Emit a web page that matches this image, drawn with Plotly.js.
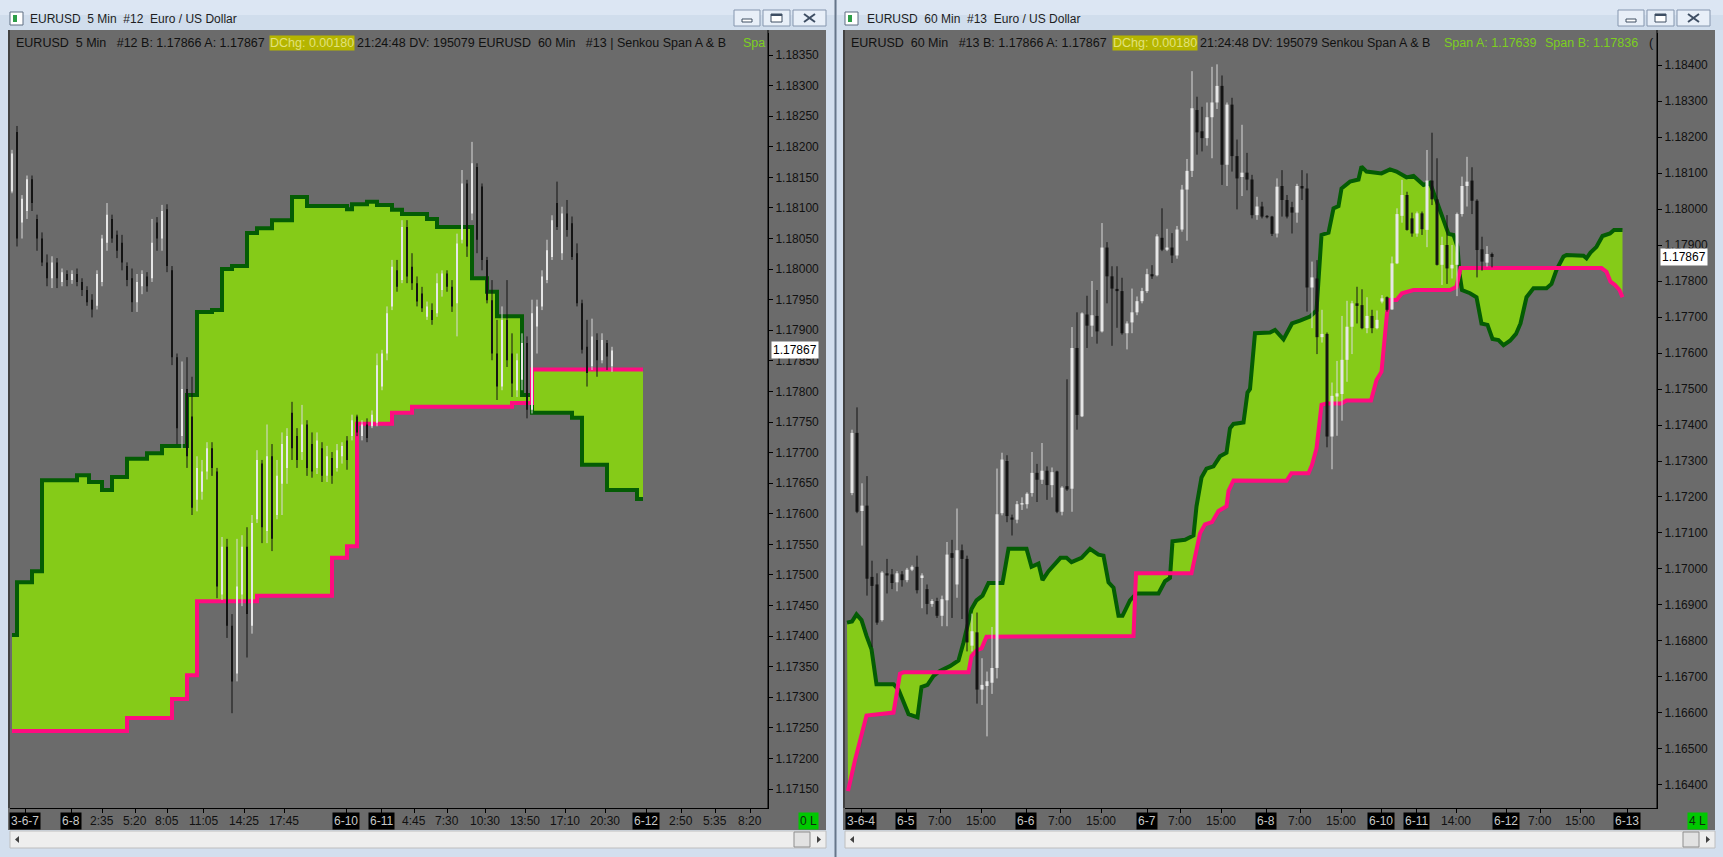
<!DOCTYPE html>
<html>
<head>
<meta charset="utf-8">
<script src="https://cdn.plot.ly/plotly-3.0.1.min.js"></script>
<style>
  html, body { margin: 0; padding: 0; background: #D3DFEE; }
  #chart { width: 1723px; height: 857px; }
</style>
</head>
<body>
<div id="chart"></div>
<script>
const FONT = "'Liberation Sans', Arial, sans-serif";
const W = 1723, H = 857;
const px = v => v / W;       // pixel -> paper x
const py = v => 1 - v / H;   // pixel -> paper y

// ---------- EURUSD 5 Min (#12) ----------
const leftOpen = [
  1.18127, 1.18224, 1.18076, 1.18095, 1.18147, 1.18082, 1.18050, 1.18011, 1.17985, 1.18011,
  1.17979, 1.17992, 1.17982, 1.17992, 1.17979, 1.17966, 1.17950, 1.17940, 1.17979, 1.18043,
  1.18082, 1.18056, 1.18043, 1.18005, 1.17985, 1.17946, 1.17972, 1.17988, 1.17985, 1.18076,
  1.18050, 1.18098, 1.17998, 1.17856, 1.17727, 1.17804, 1.17759, 1.17623, 1.17636, 1.17669,
  1.17707, 1.17669, 1.17468, 1.17546, 1.17417, 1.17339, 1.17468, 1.17546, 1.17417, 1.17591,
  1.17682, 1.17572, 1.17694, 1.17598, 1.17649, 1.17675, 1.17765, 1.17727, 1.17701, 1.17746,
  1.17714, 1.17675, 1.17707, 1.17662, 1.17691, 1.17675, 1.17694, 1.17720, 1.17727, 1.17759,
  1.17727, 1.17746, 1.17743, 1.17749, 1.17808, 1.17862, 1.17939, 1.17998, 1.17982, 1.18069,
  1.18004, 1.17977, 1.17960, 1.17922, 1.17933, 1.17928, 1.17966, 1.17993, 1.17971, 1.17944,
  1.18048, 1.18140, 1.18091, 1.18167, 1.18135, 1.18015, 1.17949, 1.17862, 1.17808, 1.17917,
  1.17862, 1.17802, 1.17819, 1.17879, 1.17770, 1.17906, 1.17939, 1.17982, 1.18020, 1.18108,
  1.18026, 1.18091, 1.18075, 1.18026, 1.17944, 1.17873, 1.17841, 1.17884, 1.17851, 1.17879,
  1.17841
];
const leftHigh = [
  1.18195, 1.18234, 1.18121, 1.18153, 1.18153, 1.18089, 1.18060, 1.18024, 1.18021, 1.18018,
  1.18001, 1.17998, 1.17998, 1.18001, 1.17985, 1.17972, 1.17959, 1.17998, 1.18056, 1.18108,
  1.18089, 1.18063, 1.18056, 1.18011, 1.18001, 1.17992, 1.17998, 1.17995, 1.18082, 1.18085,
  1.18105, 1.18106, 1.18005, 1.17862, 1.17849, 1.17856, 1.17824, 1.17694, 1.17688, 1.17717,
  1.17717, 1.17675, 1.17562, 1.17559, 1.17436, 1.17559, 1.17565, 1.17578, 1.17598, 1.17704,
  1.17688, 1.17746, 1.17714, 1.17688, 1.17733, 1.17740, 1.17783, 1.17740, 1.17778, 1.17753,
  1.17733, 1.17733, 1.17717, 1.17711, 1.17701, 1.17714, 1.17717, 1.17727, 1.17762, 1.17762,
  1.17753, 1.17756, 1.17769, 1.17862, 1.17868, 1.17939, 1.18015, 1.18015, 1.18080, 1.18080,
  1.18026, 1.17988, 1.17971, 1.17947, 1.17944, 1.17993, 1.17998, 1.17998, 1.17982, 1.18058,
  1.18162, 1.18146, 1.18208, 1.18173, 1.18140, 1.18020, 1.17982, 1.17917, 1.17939, 1.17982,
  1.17895, 1.17862, 1.17895, 1.17890, 1.17950, 1.17950, 1.17998, 1.18048, 1.18088, 1.18143,
  1.18102, 1.18113, 1.18086, 1.18042, 1.17950, 1.17917, 1.17919, 1.17895, 1.17895, 1.17884,
  1.17873
];
const leftLow = [
  1.18124, 1.18037, 1.18050, 1.18082, 1.18095, 1.18030, 1.18005, 1.17972, 1.17969, 1.17969,
  1.17972, 1.17972, 1.17976, 1.17972, 1.17956, 1.17940, 1.17921, 1.17934, 1.17972, 1.18030,
  1.18043, 1.18018, 1.17998, 1.17972, 1.17930, 1.17930, 1.17959, 1.17963, 1.17979, 1.18030,
  1.18030, 1.17995, 1.17843, 1.17714, 1.17707, 1.17675, 1.17598, 1.17604, 1.17623, 1.17656,
  1.17662, 1.17462, 1.17459, 1.17397, 1.17274, 1.17326, 1.17449, 1.17365, 1.17404, 1.17585,
  1.17552, 1.17552, 1.17539, 1.17591, 1.17598, 1.17649, 1.17688, 1.17675, 1.17688, 1.17662,
  1.17659, 1.17665, 1.17652, 1.17652, 1.17649, 1.17669, 1.17682, 1.17672, 1.17720, 1.17727,
  1.17720, 1.17717, 1.17740, 1.17743, 1.17802, 1.17851, 1.17933, 1.17963, 1.17977, 1.17977,
  1.17966, 1.17939, 1.17930, 1.17917, 1.17909, 1.17922, 1.17955, 1.17963, 1.17930, 1.17890,
  1.18042, 1.18020, 1.18080, 1.18026, 1.17998, 1.17944, 1.17851, 1.17786, 1.17802, 1.17840,
  1.17791, 1.17791, 1.17802, 1.17756, 1.17764, 1.17862, 1.17933, 1.17977, 1.18015, 1.18064,
  1.18015, 1.18053, 1.18015, 1.17939, 1.17862, 1.17808, 1.17835, 1.17824, 1.17846, 1.17835,
  1.17832
];
const leftClose = [
  1.18189, 1.18050, 1.18115, 1.18147, 1.18108, 1.18050, 1.18011, 1.17985, 1.18011, 1.17985,
  1.17995, 1.17982, 1.17992, 1.17979, 1.17966, 1.17946, 1.17934, 1.17992, 1.18050, 1.18089,
  1.18050, 1.18030, 1.18011, 1.17982, 1.17946, 1.17979, 1.17992, 1.17972, 1.18043, 1.18050,
  1.18095, 1.18005, 1.17856, 1.17740, 1.17804, 1.17694, 1.17610, 1.17675, 1.17669, 1.17707,
  1.17675, 1.17481, 1.17546, 1.17417, 1.17326, 1.17481, 1.17546, 1.17436, 1.17585, 1.17688,
  1.17578, 1.17694, 1.17559, 1.17662, 1.17714, 1.17727, 1.17707, 1.17688, 1.17746, 1.17675,
  1.17669, 1.17720, 1.17662, 1.17694, 1.17662, 1.17704, 1.17711, 1.17688, 1.17753, 1.17733,
  1.17746, 1.17724, 1.17762, 1.17843, 1.17862, 1.17928, 1.18004, 1.17971, 1.18069, 1.17988,
  1.17977, 1.17947, 1.17936, 1.17939, 1.17917, 1.17977, 1.17993, 1.17971, 1.17939, 1.18042,
  1.18140, 1.18037, 1.18173, 1.18048, 1.18015, 1.17949, 1.17862, 1.17808, 1.17917, 1.17851,
  1.17813, 1.17851, 1.17879, 1.17770, 1.17928, 1.17939, 1.17988, 1.18031, 1.18080, 1.18069,
  1.18091, 1.18064, 1.18020, 1.17944, 1.17868, 1.17830, 1.17890, 1.17851, 1.17884, 1.17857,
  1.17867
];
// Senkou spans of the 60 min chart, drawn as steps on the 5 min bars
const leftSpanAX = [0, 1, 4, 6, 13, 15.4, 18, 20, 23, 27, 30, 35, 37, 40, 42, 44, 47, 49, 52, 56,
  59, 67, 68, 71, 73, 76, 78, 83, 85, 92, 95, 97, 102, 104, 112, 114, 119, 125, 126.2];
const leftSpanA = [1.17402, 1.17488, 1.17506, 1.17655, 1.17663, 1.17652, 1.17639, 1.17660, 1.17690, 1.17699,
  1.17711, 1.17794, 1.17930, 1.17933, 1.18000, 1.18005, 1.18059, 1.18067, 1.18080, 1.18118,
  1.18103, 1.18098, 1.18106, 1.18110, 1.18105, 1.18097, 1.18090, 1.18082, 1.18069, 1.17985,
  1.17963, 1.17923, 1.17794, 1.17765, 1.17757, 1.17680, 1.17639, 1.17624, 1.17624];
const leftSpanBX = [0, 23, 32, 35, 37, 49, 64, 67, 69, 76, 80, 100, 104, 126.2];
const leftSpanB = [1.17245, 1.17266, 1.17297, 1.17336, 1.17457, 1.17466, 1.17528, 1.17547, 1.17747,
  1.17765, 1.17775, 1.17781, 1.17836, 1.17836];
const leftTickPos = [2.6, 11.8, 18, 24.6, 31, 38.2, 46.4, 54.4, 66.8, 73.8, 80.4, 87, 94.6, 102.6,
  110.6, 118.6, 126.8, 133.8, 140.6, 147.6];
const leftTickText = ['3-6-7', '6-8', '2:35', '5:20', '8:05', '11:05', '14:25', '17:45', '6-10', '6-11',
  '4:45', '7:30', '10:30', '13:50', '17:10', '20:30', '6-12', '2:50', '5:35', '8:20'];

// ---------- EURUSD 60 Min (#13) ----------
const rightOpen = [
  1.17211, 1.17378, 1.17161, 1.17176, 1.16978, 1.16957, 1.16858, 1.16988, 1.16985, 1.16963,
  1.16985, 1.16969, 1.16998, 1.17006, 1.16975, 1.16944, 1.16903, 1.16911, 1.16870, 1.16913,
  1.17044, 1.16957, 1.17052, 1.17028, 1.16787, 1.16824, 1.16665, 1.16675, 1.16684, 1.16725,
  1.17155, 1.17300, 1.17143, 1.17137, 1.17179, 1.17180, 1.17211, 1.17267, 1.17248, 1.17273,
  1.17233, 1.17271, 1.17159, 1.17230, 1.17223, 1.17614, 1.17424, 1.17707, 1.17676, 1.17703,
  1.17660, 1.17893, 1.17813, 1.17778, 1.17772, 1.17655, 1.17685, 1.17713, 1.17744, 1.17772,
  1.17819, 1.17816, 1.17920, 1.17887, 1.17893, 1.17871, 1.17943, 1.18054, 1.18106, 1.18275,
  1.18216, 1.18197, 1.18255, 1.18296, 1.18342, 1.18123, 1.18290, 1.18147, 1.18089, 1.18101,
  1.18082, 1.17983, 1.18007, 1.17981, 1.17979, 1.17932, 1.18064, 1.18025, 1.18005, 1.17990,
  1.18064, 1.18057, 1.17782, 1.17807, 1.17644, 1.17653, 1.17368, 1.17479, 1.17486, 1.17581,
  1.17673, 1.17738, 1.17733, 1.17669, 1.17703, 1.17669, 1.17743, 1.17755, 1.17721, 1.17849,
  1.17981, 1.18039, 1.17974, 1.17932, 1.17988, 1.17942, 1.18079, 1.18027, 1.17845, 1.17900,
  1.17835, 1.17845, 1.17986, 1.18064, 1.18079, 1.18023, 1.17888, 1.17851, 1.17875
];
const rightHigh = [
  1.17387, 1.17449, 1.17238, 1.17258, 1.17023, 1.16988, 1.16994, 1.17028, 1.17000, 1.16994,
  1.16994, 1.17003, 1.17010, 1.17037, 1.16988, 1.16957, 1.16916, 1.16920, 1.16926, 1.17075,
  1.17081, 1.17168, 1.17068, 1.17037, 1.16876, 1.16879, 1.16752, 1.16715, 1.16839, 1.17279,
  1.17323, 1.17316, 1.17151, 1.17189, 1.17199, 1.17213, 1.17325, 1.17292, 1.17350, 1.17285,
  1.17282, 1.17273, 1.17230, 1.17527, 1.17672, 1.17713, 1.17713, 1.17759, 1.17800, 1.17775,
  1.17961, 1.17908, 1.17841, 1.17841, 1.17809, 1.17688, 1.17779, 1.17757, 1.17781, 1.17834,
  1.17844, 1.17930, 1.18002, 1.17945, 1.17933, 1.17953, 1.18067, 1.18139, 1.18383, 1.18312,
  1.18284, 1.18296, 1.18395, 1.18402, 1.18371, 1.18296, 1.18309, 1.18193, 1.18234, 1.18156,
  1.18095, 1.18034, 1.18020, 1.17983, 1.17981, 1.18085, 1.18108, 1.18039, 1.18020, 1.18070,
  1.18108, 1.18099, 1.17854, 1.17858, 1.17720, 1.17657, 1.17518, 1.17578, 1.17703, 1.17745,
  1.17745, 1.17784, 1.17777, 1.17755, 1.17720, 1.17718, 1.17761, 1.17757, 1.17868, 1.18002,
  1.18081, 1.18048, 1.17990, 1.17993, 1.17993, 1.18164, 1.18212, 1.18141, 1.17923, 1.17983,
  1.17900, 1.17990, 1.18090, 1.18145, 1.18116, 1.18027, 1.17923, 1.17897, 1.17879
];
const rightLow = [
  1.17205, 1.17155, 1.17065, 1.16926, 1.16783, 1.16845, 1.16854, 1.16932, 1.16944, 1.16938,
  1.16951, 1.16963, 1.16994, 1.16932, 1.16891, 1.16874, 1.16895, 1.16864, 1.16841, 1.16841,
  1.16864, 1.16920, 1.16861, 1.16771, 1.16771, 1.16626, 1.16622, 1.16535, 1.16653, 1.16696,
  1.17149, 1.17130, 1.17093, 1.17127, 1.17164, 1.17168, 1.17201, 1.17186, 1.17236, 1.17192,
  1.17199, 1.17155, 1.17149, 1.17217, 1.17159, 1.17387, 1.17422, 1.17614, 1.17645, 1.17626,
  1.17657, 1.17738, 1.17620, 1.17670, 1.17651, 1.17610, 1.17655, 1.17705, 1.17738, 1.17767,
  1.17806, 1.17813, 1.17883, 1.17883, 1.17850, 1.17862, 1.17937, 1.17912, 1.18089, 1.18151,
  1.18160, 1.18176, 1.18141, 1.18278, 1.18067, 1.18064, 1.18104, 1.17999, 1.18036, 1.18052,
  1.17974, 1.17970, 1.17974, 1.17974, 1.17925, 1.17921, 1.17979, 1.17974, 1.17932, 1.17962,
  1.18025, 1.17715, 1.17669, 1.17597, 1.17629, 1.17338, 1.17277, 1.17370, 1.17412, 1.17520,
  1.17597, 1.17682, 1.17666, 1.17655, 1.17655, 1.17666, 1.17738, 1.17715, 1.17720, 1.17847,
  1.17962, 1.17940, 1.17923, 1.17923, 1.17928, 1.17894, 1.18011, 1.17843, 1.17789, 1.17792,
  1.17807, 1.17758, 1.17979, 1.18007, 1.17986, 1.17810, 1.17829, 1.17840, 1.17838
];
const rightClose = [
  1.17378, 1.17159, 1.17176, 1.16973, 1.16953, 1.16851, 1.16990, 1.16982, 1.16961, 1.16988,
  1.16969, 1.16998, 1.17006, 1.16941, 1.16982, 1.16903, 1.16911, 1.16870, 1.16916, 1.17040,
  1.17031, 1.17052, 1.17028, 1.16796, 1.16827, 1.16665, 1.16678, 1.16688, 1.16725, 1.17152,
  1.17304, 1.17147, 1.17137, 1.17180, 1.17183, 1.17209, 1.17267, 1.17248, 1.17273, 1.17233,
  1.17269, 1.17159, 1.17226, 1.17221, 1.17614, 1.17428, 1.17710, 1.17676, 1.17705, 1.17660,
  1.17893, 1.17813, 1.17779, 1.17772, 1.17655, 1.17682, 1.17713, 1.17744, 1.17772, 1.17819,
  1.17813, 1.17924, 1.17887, 1.17893, 1.17871, 1.17943, 1.18054, 1.18106, 1.18280, 1.18213,
  1.18197, 1.18255, 1.18296, 1.18342, 1.18123, 1.18290, 1.18147, 1.18085, 1.18101, 1.18082,
  1.17983, 1.18007, 1.17979, 1.17977, 1.17931, 1.18062, 1.18025, 1.17979, 1.17990, 1.18064,
  1.18057, 1.17782, 1.17810, 1.17644, 1.17653, 1.17368, 1.17481, 1.17488, 1.17581, 1.17673,
  1.17738, 1.17731, 1.17669, 1.17703, 1.17669, 1.17692, 1.17752, 1.17720, 1.17849, 1.17986,
  1.18039, 1.17942, 1.17932, 1.17988, 1.17944, 1.18079, 1.18027, 1.17845, 1.17900, 1.17835,
  1.17845, 1.17986, 1.18064, 1.18076, 1.18023, 1.17886, 1.17854, 1.17875, 1.17867
];
const rightSpanAX = [-1, 0, 0.9, 1.9, 2.9, 3.9, 4.9, 8.3, 9.3, 10.3, 11.3, 13.1, 13.9, 15.1, 16.3, 17.6,
  19.6, 21.3, 22.3, 23.9, 24.9, 26.1, 27.3, 30.1, 31.3, 34.9, 35.9, 37.3, 38.1, 39.3, 41.7, 42.9,
  43.9, 45.9, 47.6, 49.3, 50.3, 51.3, 52.3, 53.3, 54.1, 55.6, 56.9, 61.3, 62.6, 63.6, 64.1, 66.6,
  68.3, 68.9, 69.9, 70.9, 72.3, 73.6, 74.9, 75.6, 76.3, 78.3, 79.1, 79.6, 80.6, 83.6, 84.6, 86.3,
  88.0, 89.6, 91.6, 92.9, 93.9, 95.3, 96.3, 97.3, 97.9, 99.6, 101.3, 101.9, 102.9, 105.9, 107.6,
  108.9, 110.9, 112.3, 114.3, 115.6, 117.3, 118.3, 119.3, 120.3, 121.1, 121.5, 122.0, 123.6, 124.9,
  125.9, 127.1, 128.1, 129.3, 130.3, 131.6, 132.8, 133.7, 134.9, 136.3, 138.9, 139.9, 140.9, 142.3,
  142.9, 146.3, 146.9, 147.7, 148.9, 150.1, 151.6, 152.4, 154.1];
const rightSpanA = [1.16851, 1.16854, 1.16874, 1.16858, 1.16814, 1.16777, 1.16680, 1.16680, 1.16665,
  1.16628, 1.16597, 1.16588, 1.16672, 1.16678, 1.16703, 1.16717, 1.16730, 1.16746, 1.16796, 1.16889,
  1.16913, 1.16926, 1.16961, 1.16961, 1.17056, 1.17056, 1.17006, 1.17015, 1.16969, 1.16994, 1.17031,
  1.17031, 1.17019, 1.17031, 1.17056, 1.17040, 1.17037, 1.16963, 1.16948, 1.16870, 1.16870, 1.16913,
  1.16932, 1.16932, 1.16966, 1.16975, 1.17077, 1.17081, 1.17093, 1.17174, 1.17254, 1.17279, 1.17285,
  1.17313, 1.17323, 1.17391, 1.17403, 1.17407, 1.17490, 1.17500, 1.17655, 1.17657, 1.17664, 1.17638,
  1.17682, 1.17690, 1.17701, 1.17718, 1.17928, 1.17934, 1.18002, 1.18008, 1.18057, 1.18076, 1.18082,
  1.18118, 1.18104, 1.18099, 1.18110, 1.18104, 1.18088, 1.18092, 1.18067, 1.18073, 1.18007, 1.17974,
  1.17931, 1.17928, 1.17895, 1.17821, 1.17775, 1.17766, 1.17755, 1.17682, 1.17678, 1.17639, 1.17636,
  1.17622, 1.17634, 1.17653, 1.17682, 1.17755, 1.17780, 1.17780, 1.17792, 1.17831, 1.17868, 1.17872,
  1.17870, 1.17863, 1.17879, 1.17895, 1.17925, 1.17932, 1.17942, 1.17942];
const rightSpanBX = [-0.8, 0.6, 2.9, 8.3, 9.6, 10.3, 23.3, 23.9, 24.9, 25.9, 26.9, 56.3, 56.8, 67.9,
  69.6, 70.6, 72.0, 73.3, 74.9, 75.3, 76.3, 86.9, 87.9, 91.3, 92.0, 92.9, 93.9, 94.9, 97.9, 98.9,
  103.8, 104.9, 105.9, 106.4, 107.0, 107.6, 108.9, 110.0, 111.3, 112.3, 119.6, 120.9, 121.7, 149.9,
  150.9, 151.7, 152.6, 153.5, 154.1];
const rightSpanB = [1.16383, 1.16469, 1.16593, 1.16601, 1.16709, 1.16713, 1.16713, 1.16758, 1.16774,
  1.16779, 1.16812, 1.16814, 1.16988, 1.16988, 1.17099, 1.17124, 1.17130, 1.17161, 1.17174, 1.17217,
  1.17246, 1.17245, 1.17266, 1.17266, 1.17289, 1.17335, 1.17456, 1.17460, 1.17460, 1.17468, 1.17468,
  1.17525, 1.17548, 1.17627, 1.17710, 1.17747, 1.17747, 1.17766, 1.17770, 1.17775, 1.17775, 1.17784,
  1.17836, 1.17836, 1.17826, 1.17798, 1.17789, 1.17775, 1.17755];
const rightTickPos = [1.8, 10.8, 17.6, 25.8, 34.8, 41.6, 49.8, 59, 65.6, 73.8, 82.8, 89.6, 97.8,
  105.8, 112.8, 120.8, 130.8, 137.6, 145.6, 155];
const rightTickText = ['3-6-4', '6-5', '7:00', '15:00', '6-6', '7:00', '15:00', '6-7', '7:00', '15:00',
  '6-8', '7:00', '15:00', '6-10', '6-11', '14:00', '6-12', '7:00', '15:00', '6-13'];

const lastPrice = 1.17867;

// ---------- traces ----------
function cloud(ax, a, bx, b, xa, ya, shape) {
  const base = {xaxis: xa, yaxis: ya, mode: 'lines', hoverinfo: 'skip'};
  return [
    Object.assign({}, base, {x: bx, y: b, line: {width: 0, shape: shape}}),
    Object.assign({}, base, {x: ax, y: a, line: {width: 0, shape: shape}, fill: 'tonexty', fillcolor: '#85CB18'}),
    Object.assign({}, base, {x: ax, y: a, line: {width: 4, color: '#045C04', shape: shape}}),
    Object.assign({}, base, {x: bx, y: b, line: {width: 4, color: '#FF0C80', shape: shape}})
  ];
}

function candles(o, h, l, c, xa, ya, bodyW) {
  const parts = {upW: [[], []], dnW: [[], []], upB: [[], []], dnB: [[], []]};
  o.forEach((open, k) => {
    const up = c[k] >= open;
    const w = up ? parts.upW : parts.dnW, b = up ? parts.upB : parts.dnB;
    w[0].push(k, k, null); w[1].push(l[k], h[k], null);
    let lo = Math.min(open, c[k]), hi = Math.max(open, c[k]);
    if (hi - lo < 0.00002) { lo -= 0.000012; hi += 0.000012; }
    b[0].push(k, k, null); b[1].push(lo, hi, null);
  });
  const mk = (p, color, width) => ({x: p[0], y: p[1], xaxis: xa, yaxis: ya, mode: 'lines',
    connectgaps: false, hoverinfo: 'skip', line: {color: color, width: width}});
  return [mk(parts.upW, '#DADADA', 1), mk(parts.dnW, '#141414', 1),
          mk(parts.upB, '#E6E6E6', bodyW), mk(parts.dnB, '#141414', bodyW)];
}

const data = [].concat(
  cloud(leftSpanAX, leftSpanA, leftSpanBX, leftSpanB, 'x', 'y', 'hv'),
  candles(leftOpen, leftHigh, leftLow, leftClose, 'x', 'y', 2),
  cloud(rightSpanAX, rightSpanA, rightSpanBX, rightSpanB, 'x2', 'y2', 'linear'),
  candles(rightOpen, rightHigh, rightLow, rightClose, 'x2', 'y2', 3)
);

// ---------- window chrome ----------
const shapes = [];
function rect(x0, y0, x1, y1, fill, lineColor, lw, layer) {
  shapes.push({type: 'rect', xref: 'paper', yref: 'paper', x0: px(x0), x1: px(x1), y0: py(y1), y1: py(y0),
    fillcolor: fill, line: {color: lineColor || fill, width: lw || 0}, layer: layer || 'below'});
}
function seg(x0, y0, x1, y1, color, lw) {
  shapes.push({type: 'line', xref: 'paper', yref: 'paper', x0: px(x0), x1: px(x1), y0: py(y0), y1: py(y1),
    line: {color: color, width: lw || 1}});
}
function tri(pts, color) {
  const d = pts.map((p, i) => (i ? 'L' : 'M') + px(p[0]).toFixed(5) + ',' + py(p[1]).toFixed(5)).join(' ') + ' Z';
  shapes.push({type: 'path', xref: 'paper', yref: 'paper', path: d, fillcolor: color, line: {color: color, width: 0}});
}

function windowChrome(x0, x1, plotL, axisX, iconX, btnX) {
  // title bar
  rect(x0, 0, x1, 30, '#DCE6F3');
  rect(x0, 15, x1, 30, '#D0DDEC');
  // icon
  rect(iconX, 12, iconX + 13, 25, '#FFFFFF', '#5E6E82', 1, 'above');
  rect(iconX + 3, 15, iconX + 7, 22, '#2E9E48', '#2E9E48', 0, 'above');
  // buttons
  const b = btnX;
  rect(b, 10, b + 26, 26, '#E8EFF8', '#8596AE', 1, 'above');
  rect(b + 29, 10, b + 56, 26, '#E8EFF8', '#8596AE', 1, 'above');
  rect(b + 59, 10, b + 92, 26, '#E8EFF8', '#8596AE', 1, 'above');
  rect(b + 8, 19, b + 18, 22, '#FFFFFF', '#3E4E63', 1, 'above');
  rect(b + 37, 14, b + 48, 22, '#FFFFFF', '#3E4E63', 1, 'above');
  seg(b + 37, 15, b + 48, 15, '#3E4E63', 2);
  seg(b + 70, 14, b + 81, 22, '#3E4E63', 2);
  seg(b + 70, 22, b + 81, 14, '#3E4E63', 2);
  // chart area
  rect(plotL - 2, 30, axisX + 58, 830, '#6B6B6B');
  seg(plotL - 1, 30, plotL - 1, 808, '#1A1A1A', 1);
  seg(axisX, 30, axisX, 808, '#000000', 1);
  // scrollbar
  rect(plotL, 831, axisX + 58, 848, '#EEEEEE', '#BEBEBE', 1, 'above');
  tri([[plotL + 5, 839.5], [plotL + 9, 836], [plotL + 9, 843]], '#404040');
  tri([[axisX + 53, 839.5], [axisX + 49, 836], [axisX + 49, 843]], '#404040');
  rect(axisX + 26, 832, axisX + 42, 847, '#E2E2E2', '#8E8E8E', 1, 'above');
}
windowChrome(0, 835, 10, 768, 10, 734);
windowChrome(837, 1723, 845, 1657, 845, 1618);
seg(835.5, 0, 835.5, 857, '#66768A', 2);

// ---------- texts ----------
const annotations = [];
function note(text, x, y, opts) {
  annotations.push(Object.assign({text: text, x: px(x), y: py(y), xref: 'paper', yref: 'paper',
    showarrow: false, xanchor: 'left', yanchor: 'middle', borderpad: 0,
    font: {family: FONT, size: 12.5, color: '#111111'}}, opts || {}));
}
const sp = n => '\u00a0'.repeat(n);
const olive = {bgcolor: '#B5B500', font: {family: FONT, size: 12.5, color: '#E2E27A'}};
const green = {font: {family: FONT, size: 12.5, color: '#7CCF1E'}};

note('EURUSD' + sp(2) + '5 Min' + sp(2) + '#12' + sp(2) + 'Euro / US Dollar', 29, 19, {font: {family: FONT, size: 12, color: '#1E1E1E'}});
note('EURUSD' + sp(2) + '60 Min' + sp(2) + '#13' + sp(2) + 'Euro / US Dollar', 866, 19, {font: {family: FONT, size: 12, color: '#1E1E1E'}});

note('EURUSD' + sp(2) + '5 Min' + sp(3) + '#12 B: 1.17866 A: 1.17867', 15, 43);
note('DChg: 0.00180', 269, 43, olive);
note('21:24:48 DV: 195079 EURUSD' + sp(2) + '60 Min' + sp(3) + '#13 | Senkou Span A &amp; B', 356, 43);
note('Spa', 742, 43, green);

note('EURUSD' + sp(2) + '60 Min' + sp(3) + '#13 B: 1.17866 A: 1.17867', 850, 43);
note('DChg: 0.00180', 1112, 43, olive);
note('21:24:48 DV: 195079 Senkou Span A &amp; B', 1199, 43);
note('Span A: 1.17639', 1443, 43, green);
note('Span B: 1.17836', 1544, 43, green);
note('(', 1648, 43);

// last price tags
[['y', 771], ['y2', 1660]].forEach(([ya, x]) => {
  annotations.push({text: lastPrice.toFixed(5), x: px(x), y: lastPrice, xref: 'paper', yref: ya,
    showarrow: false, xanchor: 'left', yanchor: 'middle', bgcolor: '#FFFFFF', borderpad: 1,
    font: {family: FONT, size: 12, color: '#000000'}});
});

// bar count boxes
note('0 L', 798, 821, {bgcolor: '#00C800', borderpad: 1, font: {family: FONT, size: 12, color: '#0E2A0E'}});
note('4 L', 1687, 821, {bgcolor: '#00C800', borderpad: 1, font: {family: FONT, size: 12, color: '#0E2A0E'}});

// time axis labels (dates on black)
function timeLabels(pos, txt, xa) {
  pos.forEach((p, k) => {
    const isDate = txt[k].indexOf('-') >= 0;
    annotations.push({text: txt[k], x: p, y: py(821), xref: xa, yref: 'paper', showarrow: false,
      xanchor: 'center', yanchor: 'middle', borderpad: 1,
      bgcolor: isDate ? '#000000' : 'rgba(0,0,0,0)',
      font: {family: FONT, size: 12, color: isDate ? '#C8C8C8' : '#111111'}});
  });
}
timeLabels(leftTickPos, leftTickText, 'x');
timeLabels(rightTickPos, rightTickText, 'x2');

// ---------- axes ----------
const xCommon = {showgrid: false, zeroline: false, showline: true, linecolor: '#000000', linewidth: 1,
  ticks: 'outside', ticklen: 4, tickcolor: '#000000', showticklabels: false, fixedrange: true};
const yCommon = {showgrid: false, zeroline: false, showline: true, linecolor: '#000000', linewidth: 1,
  side: 'right', ticks: 'outside', ticklen: 4, tickcolor: '#000000', tickformat: '.5f',
  tickfont: {family: FONT, size: 12, color: '#111111'}, fixedrange: true};

const layout = {
  width: W, height: H,
  margin: {l: 0, r: 0, t: 0, b: 0},
  paper_bgcolor: '#D3DFEE',
  plot_bgcolor: '#6B6B6B',
  showlegend: false,
  hovermode: false,
  xaxis: Object.assign({}, xCommon, {domain: [px(10), px(768)], range: [-0.4, 151.2], tickvals: leftTickPos, anchor: 'y'}),
  yaxis: Object.assign({}, yCommon, {domain: [py(808), py(33)], range: [1.17119, 1.18386], tick0: 1.1715, dtick: 0.0005, anchor: 'x'}),
  xaxis2: Object.assign({}, xCommon, {domain: [px(845), px(1657)], range: [-1.4, 161], tickvals: rightTickPos, anchor: 'y2'}),
  yaxis2: Object.assign({}, yCommon, {domain: [py(808), py(33)], range: [1.16336, 1.18489], tick0: 1.164, dtick: 0.001, anchor: 'x2'}),
  shapes: shapes,
  annotations: annotations
};

Plotly.newPlot('chart', data, layout, {displayModeBar: false, staticPlot: true});
</script>
</body>
</html>
